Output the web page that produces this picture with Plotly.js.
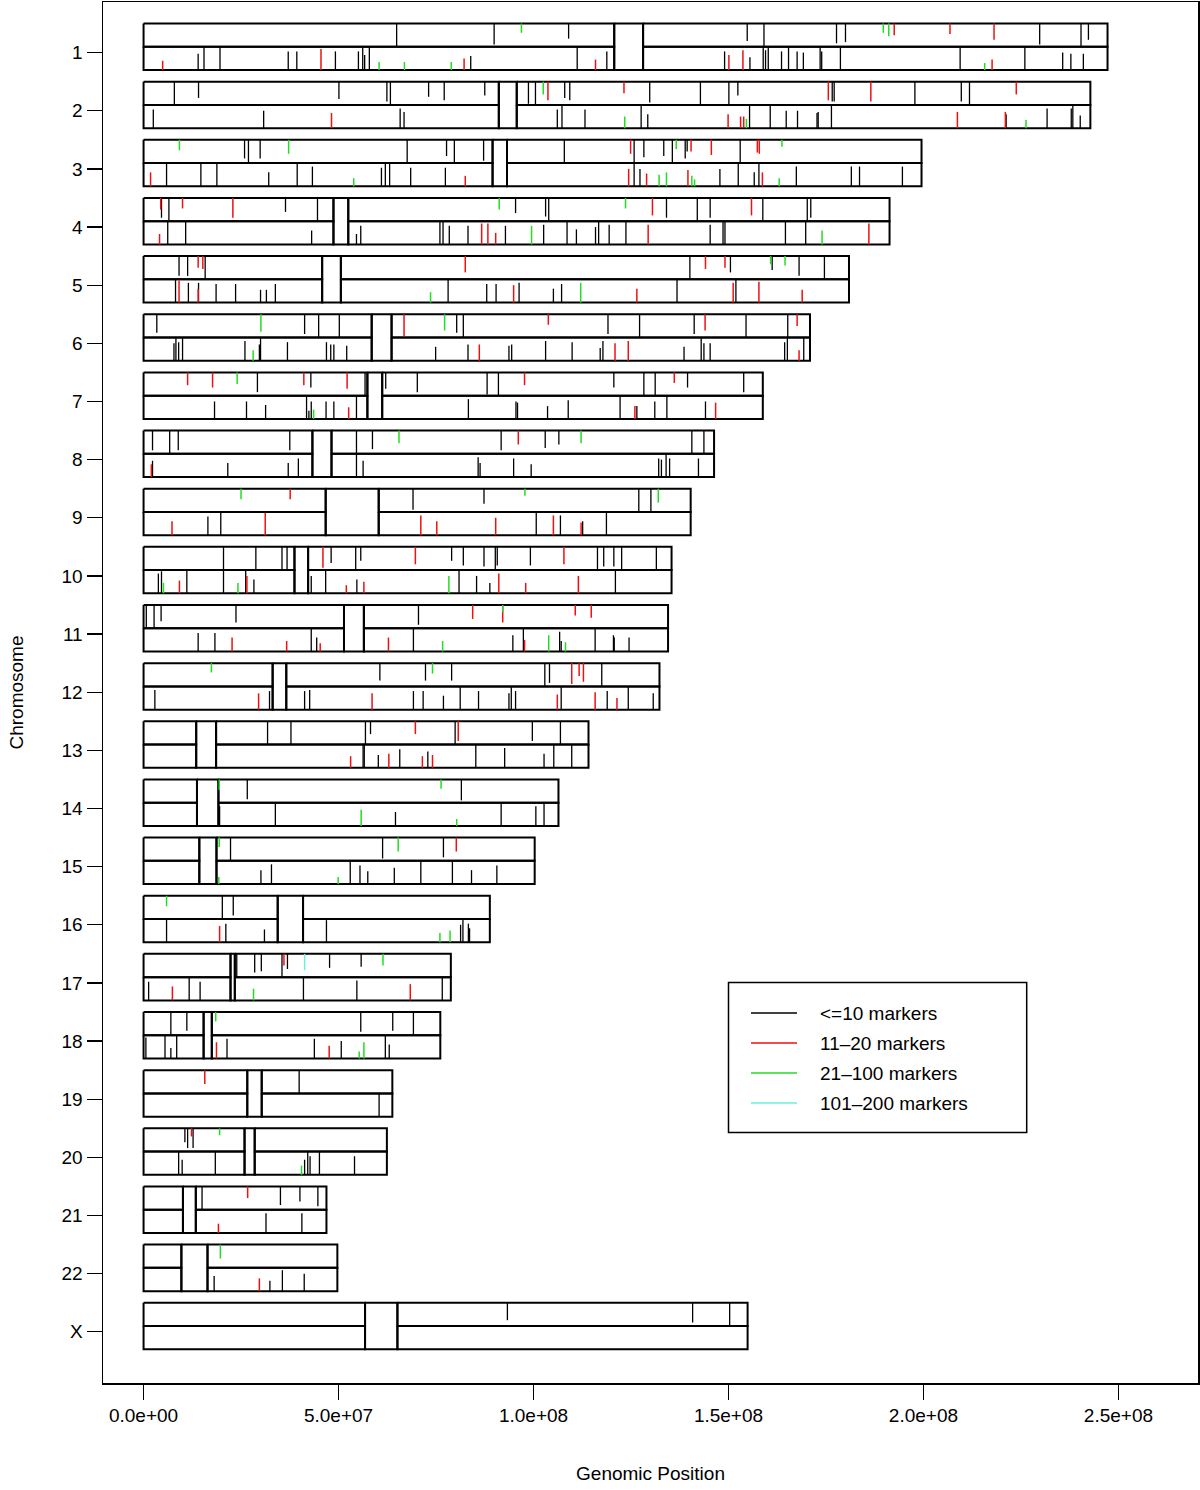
<!DOCTYPE html>
<html>
<head>
<meta charset="utf-8">
<script src="https://cdn.plot.ly/plotly-3.0.1.min.js"></script>
<style>html,body{margin:0;padding:0;background:#fff;}#chart{width:1200px;height:1490px;}</style>
</head>
<body>
<div id="chart"></div>
<script>
// ---- data (positions in Mb) ----
const chromLabels = ['1','2','3','4','5','6','7','8','9','10','11','12','13','14','15','16','17','18','19','20','21','22','X'];
const chromLength = [247.2,242.8,199.5,191.3,180.9,170.9,158.8,146.3,140.3,135.4,134.5,132.3,114.1,106.4,100.3,88.8,78.8,76.1,63.8,62.4,46.9,49.7,154.9];
const cenStart    = [120.7,91.1,89.5,48.7,45.8,58.5,57.4,43.3,46.7,38.7,51.4,33.1,13.5,13.7,14.3,34.4,22.3,15.4,26.6,25.9,10.1,9.7,56.8];
const cenEnd      = [128.1,95.7,93.2,52.5,50.6,63.6,61.2,48.2,60.3,42.2,56.5,36.6,18.6,19.2,18.7,40.9,23.4,17.5,30.3,28.5,13.4,16.4,65.1];

// marker-count class codes: k <=10, r 11-20, g 21-100, c 101-200
// each tick: [position Mb, class, relative length]
const upperTicks = [
 [[64.9,'k',1],[89.9,'k',.9],[96.9,'g',.4],[109.0,'k',.65],[154.8,'k',.75],[159.1,'k',1],[177.7,'k',.85],[180.0,'k',.8],[189.7,'g',.4],[191.1,'g',.55],[192.5,'r',.5],[206.8,'r',.45],[218.1,'r',.7],[229.8,'k',.9],[240.4,'k',1],[242.3,'k',.7]],
 [[7.9,'k',1],[14.1,'k',.7],[50.1,'k',.75],[62.4,'k',.85],[63.3,'k',1],[73.1,'k',.65],[77.1,'k',.8],[87.5,'k',.6],[98.7,'k',.95],[100.5,'k',1],[102.5,'g',.55],[103.7,'r',.8],[108.0,'k',.7],[109.3,'k',.8],[123.2,'r',.5],[129.8,'k',.9],[142.8,'k',1],[150.1,'k',1],[152.4,'k',.6],[175.6,'r',.8],[176.6,'k',.85],[177.1,'k',.85],[186.5,'r',.85],[197.8,'k',1],[209.7,'k',.85],[211.8,'k',1],[223.8,'r',.55]],
 [[9.2,'g',.45],[25.9,'k',.8],[26.9,'k',1],[29.9,'k',.8],[37.2,'g',.6],[67.6,'k',.95],[77.7,'k',.7],[79.7,'k',1],[87.2,'k',.9],[107.9,'k',1],[124.9,'r',.6],[125.8,'k',1],[128.3,'k',.75],[133.4,'k',.7],[135.6,'k',1],[136.6,'g',.4],[138.9,'k',.8],[139.4,'k',.5],[140.4,'r',.5],[145.6,'r',.65],[153.0,'k',1],[157.4,'r',.55],[157.9,'r',.6],[163.7,'g',.3]],
 [[4.4,'r',.5],[4.6,'k',.85],[6.5,'k',.95],[10.0,'r',.45],[22.9,'r',.85],[36.4,'k',.6],[44.6,'k',1],[91.2,'g',.5],[95.4,'k',.65],[103.1,'k',.8],[103.9,'k',1],[123.6,'g',.45],[130.5,'r',.75],[134.1,'k',.85],[142.0,'k',1],[145.3,'k',.85],[155.9,'r',.75],[158.8,'k',1],[170.2,'k',1],[171.1,'k',.85]],
 [[9.1,'k',.85],[11.3,'k',.85],[14.0,'r',.5],[15.2,'r',.55],[15.8,'k',1],[82.5,'r',.7],[140.1,'k',1],[144.1,'r',.55],[149.1,'r',.5],[150.5,'k',.7],[160.8,'g',.35],[161.2,'k',.6],[164.5,'g',.4],[168.1,'k',.85],[174.6,'k',1]],
 [[3.4,'k',.8],[30.1,'g',.75],[41.3,'k',.85],[44.9,'k',1],[50.2,'k',1],[66.8,'r',.95],[77.2,'g',.7],[80.3,'k',.8],[82.0,'k',1],[103.8,'r',.45],[119.1,'k',.85],[127.2,'k',1],[141.2,'k',.85],[144.0,'r',.7],[154.5,'k',1],[165.2,'k',1],[167.6,'r',.5]],
 [[11.3,'r',.55],[17.7,'r',.65],[24.0,'g',.5],[29.2,'k',.85],[41.1,'r',.55],[42.9,'k',.65],[52.2,'r',.7],[56.8,'k',1],[62.1,'k',.7],[70.2,'k',.85],[88.1,'k',.95],[91.0,'k',1],[97.7,'r',.55],[120.6,'k',.65],[128.3,'k',1],[131.2,'k',1],[136.1,'r',.45],[139.5,'k',.65],[153.9,'k',.85]],
 [[2.3,'k',.85],[6.7,'k',1],[8.9,'k',.85],[37.5,'k',.85],[54.6,'k',1],[58.7,'k',.8],[65.5,'g',.55],[91.7,'k',.85],[96.1,'r',.6],[103.0,'k',.75],[106.5,'k',.6],[112.2,'g',.55],[140.6,'k',1],[143.7,'k',1]],
 [[25.0,'g',.45],[37.6,'r',.45],[69.1,'k',.9],[87.3,'k',.65],[97.8,'g',.3],[127.0,'k',1],[130.1,'k',1],[132.0,'g',.6]],
 [[20.5,'k',1],[28.8,'k',1],[35.5,'k',1],[36.8,'k',1],[46.0,'r',.9],[48.1,'k',.7],[54.4,'k',1],[55.7,'k',.6],[69.7,'r',.75],[79.0,'k',.6],[82.0,'k',.8],[87.3,'k',.85],[90.2,'k',1],[90.7,'k',.8],[99.2,'k',.8],[107.8,'r',.75],[116.4,'k',1],[118.0,'k',.85],[120.6,'k',.85],[122.6,'k',1],[131.5,'k',1]],
 [[0.7,'k',1],[2.7,'k',1],[4.5,'k',.7],[23.7,'k',.75],[70.5,'k',.85],[84.4,'r',.6],[92.1,'r',.75],[92.1,'g',.3],[110.7,'r',.45],[114.8,'r',.55]],
 [[17.4,'g',.4],[60.6,'k',.75],[72.3,'k',.75],[74.1,'g',.45],[79.0,'k',.75],[102.9,'k',1],[104.1,'k',.85],[109.8,'r',.9],[111.7,'r',.55],[112.8,'r',.8],[117.5,'k',1]],
 [[31.8,'k',1],[37.8,'k',1],[56.9,'k',1],[58.2,'k',.55],[69.7,'r',.55],[79.9,'k',1],[80.7,'r',.85],[99.7,'k',.85],[106.9,'k',1]],
 [[19.4,'g',.45],[26.6,'k',.85],[76.3,'g',.4],[81.5,'k',.9]],
 [[19.4,'g',.4],[22.3,'k',1],[61.3,'k',.9],[65.3,'g',.6],[76.9,'k',.85],[80.2,'r',.6]],
 [[5.9,'g',.45],[20.2,'k',1],[23.0,'k',.85]],
 [[23.9,'k',1],[28.5,'k',.8],[30.2,'k',.75],[35.5,'k',1],[36.0,'r',.5],[36.9,'k',.65],[41.3,'c',.7],[47.7,'k',.6],[55.8,'k',.55],[61.4,'g',.5]],
 [[7.0,'k',1],[11.1,'k',.8],[18.5,'g',.4],[55.7,'k',.85],[63.9,'k',.8],[69.2,'k',1]],
 [[15.7,'r',.6],[39.9,'k',1]],
 [[10.6,'k',.6],[11.3,'k',.85],[12.3,'r',.35],[12.7,'k',.85],[19.5,'g',.3]],
 [[15.0,'k',1],[26.7,'r',.5],[35.1,'k',.8],[40.1,'k',.65],[44.7,'k',.85]],
 [[19.7,'g',.6]],
 [[93.3,'k',.75],[140.8,'k',.85],[150.3,'k',1]]
];
const lowerTicks = [
 [[4.9,'r',.4],[14.0,'k',.7],[15.5,'k',1],[19.6,'k',1],[37.1,'k',.8],[39.3,'k',.8],[45.5,'r',.9],[49.2,'k',.8],[55.1,'k',.8],[56.2,'k',1],[56.7,'k',.65],[57.9,'k',1],[60.4,'g',.35],[66.9,'g',.35],[78.9,'g',.35],[82.2,'r',.5],[83.9,'k',.6],[111.2,'k',1],[115.9,'r',.45],[118.8,'k',.8],[149.0,'k',.8],[150.1,'r',.65],[153.7,'r',.85],[155.5,'k',.55],[158.9,'k',1],[159.5,'k',.85],[160.2,'k',1],[163.6,'k',.8],[165.4,'k',1],[167.6,'k',.8],[169.2,'k',.75],[173.5,'k',1],[173.9,'k',.8],[178.7,'k',1],[209.4,'k',1],[215.7,'g',.3],[217.6,'r',.45],[226.0,'k',1],[235.7,'k',.75],[237.8,'k',.7],[241.0,'k',.7]],
 [[2.5,'k',.8],[30.8,'k',.75],[48.2,'r',.65],[65.8,'k',.85],[66.8,'k',.7],[106.1,'k',.8],[107.3,'k',1],[113.2,'k',.8],[123.4,'g',.5],[127.6,'k',1],[129.3,'k',.6],[149.9,'r',.6],[153.1,'r',.5],[153.9,'r',.5],[154.6,'g',.4],[155.4,'k',1],[160.7,'k',1],[164.8,'k',.75],[167.7,'k',.75],[172.7,'k',.65],[173.0,'k',.7],[176.4,'k',1],[208.7,'r',.7],[221.0,'r',.7],[221.2,'k',.6],[226.3,'g',.35],[231.7,'k',.85],[237.9,'k',.85],[238.3,'k',1],[240.2,'k',.55]],
 [[1.8,'r',.6],[5.9,'k',1],[14.7,'k',1],[18.8,'k',1],[32.1,'k',.6],[39.4,'k',1],[43.3,'k',.85],[53.9,'g',.35],[61.0,'k',.8],[62.0,'k',1],[63.1,'k',1],[68.5,'k',.8],[77.4,'k',.8],[82.5,'r',.45],[124.4,'r',.75],[125.8,'k',1],[127.3,'k',.75],[129.0,'r',.55],[132.2,'g',.5],[134.1,'g',.6],[139.6,'r',.7],[140.6,'g',.45],[141.3,'g',.3],[147.8,'k',.75],[152.5,'k',1],[156.6,'k',.6],[157.8,'k',1],[158.7,'r',.6],[163.0,'g',.35],[167.4,'k',.85],[181.5,'k',.85],[183.6,'k',.85],[194.6,'k',.85]],
 [[4.1,'r',.45],[6.2,'k',1],[10.8,'k',1],[43.1,'k',.6],[54.6,'k',.45],[55.7,'k',.8],[76.0,'k',1],[76.8,'k',1],[78.4,'k',.8],[83.2,'k',.8],[86.7,'r',.9],[88.3,'r',.9],[90.3,'r',.5],[92.8,'k',.8],[99.5,'g',.8],[102.6,'k',.85],[108.6,'k',1],[111.0,'k',.65],[115.9,'k',.75],[116.7,'k',1],[119.4,'k',.85],[123.7,'k',1],[129.4,'r',.85],[145.3,'k',.85],[148.6,'k',1],[149.1,'k',1],[164.6,'k',1],[169.8,'k',1],[174.0,'g',.6],[186.0,'r',.9]],
 [[8.2,'k',1],[9.1,'r',.95],[11.5,'k',.85],[14.0,'r',.6],[14.1,'k',.85],[18.6,'k',.8],[23.6,'k',.8],[30.0,'k',.55],[31.5,'k',.55],[33.8,'k',.8],[73.6,'g',.45],[78.1,'k',1],[88.0,'k',.8],[90.4,'k',.8],[94.9,'r',.75],[96.3,'k',.85],[105.1,'k',.6],[107.2,'k',.8],[112.1,'g',.85],[126.5,'r',.6],[136.8,'k',1],[151.2,'r',.85],[151.9,'k',1],[157.8,'r',.9],[168.9,'r',.55]],
 [[7.8,'k',.75],[8.3,'k',1],[9.0,'k',.8],[10.0,'k',1],[26.0,'k',.85],[28.1,'g',.45],[29.7,'k',.7],[30.0,'k',1],[36.9,'k',.8],[46.9,'k',.8],[48.0,'k',.7],[48.8,'k',.7],[52.1,'k',.65],[74.9,'k',.6],[83.2,'k',.7],[86.1,'r',.7],[93.7,'k',.65],[94.4,'k',.7],[103.1,'k',.85],[109.9,'k',.8],[117.1,'k',.55],[117.8,'k',.85],[120.9,'r',.75],[124.3,'r',.85],[138.6,'k',.6],[143.0,'k',1],[143.7,'k',.75],[145.3,'k',.75],[164.4,'k',.8],[165.1,'k',1],[168.1,'r',.45],[169.3,'k',1]],
 [[18.2,'k',.75],[26.4,'k',.75],[31.3,'k',.6],[41.8,'k',1],[42.4,'k',.35],[43.0,'k',.75],[43.6,'g',.4],[46.8,'k',.75],[48.8,'k',.75],[52.6,'r',.5],[54.6,'k',1],[83.3,'k',.85],[95.5,'k',.75],[95.9,'k',.7],[103.6,'k',.55],[108.9,'k',.8],[122.2,'k',1],[126.0,'r',.55],[126.5,'k',.55],[131.1,'k',.75],[134.2,'k',1],[144.1,'k',.75],[146.7,'r',.7]],
 [[2.0,'r',.55],[2.3,'k',.7],[21.6,'k',.6],[37.1,'k',.6],[39.7,'k',.8],[54.6,'k',1],[56.3,'k',.7],[85.8,'k',.85],[86.3,'k',.6],[94.9,'k',.8],[99.4,'k',.55],[132.1,'k',.8],[132.8,'k',.75],[134.0,'k',1],[134.9,'k',.8],[142.3,'k',.8]],
 [[7.3,'r',.6],[16.5,'k',.8],[19.8,'k',1],[31.2,'r',.95],[71.1,'r',.85],[75.2,'r',.6],[90.3,'r',.75],[100.7,'k',1],[105.1,'r',.85],[106.9,'k',.85],[112.2,'r',.55],[112.6,'k',.6],[118.7,'k',1]],
 [[3.8,'k',.85],[4.6,'k',.95],[5.1,'g',.45],[9.2,'r',.55],[11.1,'k',1],[20.5,'k',1],[24.2,'g',.45],[26.2,'k',1],[26.5,'r',.75],[28.3,'k',.6],[43.0,'k',.75],[46.7,'k',1],[52.0,'r',.35],[54.7,'k',.6],[56.5,'r',.5],[78.3,'g',.75],[80.9,'k',1],[85.4,'k',.75],[88.8,'k',.45],[91.1,'r',.85],[98.0,'r',.45],[111.5,'r',.75],[121.0,'k',1]],
 [[14.0,'k',.8],[18.3,'k',.8],[22.7,'r',.6],[36.7,'r',.45],[43.0,'k',1],[44.4,'k',.6],[45.3,'r',.35],[62.8,'r',.6],[69.2,'k',1],[76.7,'g',.45],[94.7,'k',.7],[97.4,'k',1],[97.7,'r',.5],[103.9,'g',.7],[106.7,'k',.85],[107.1,'k',.45],[108.2,'g',.4],[115.8,'k',1],[120.5,'k',.7],[120.7,'k',.6],[124.5,'k',.6]],
 [[2.9,'k',.85],[29.5,'r',.7],[32.3,'k',.8],[41.3,'k',.8],[42.6,'k',.85],[58.6,'r',.7],[69.2,'k',.8],[71.7,'k',.8],[76.9,'k',.6],[81.2,'k',1],[85.9,'k',.8],[93.7,'k',.7],[94.3,'k',1],[95.4,'k',.8],[106.1,'r',.65],[107.1,'k',1],[115.8,'r',.75],[118.9,'k',.8],[121.4,'r',.5],[124.3,'k',1],[130.7,'k',.7]],
 [[53.1,'r',.5],[56.3,'k',1],[56.6,'k',1],[60.2,'k',.55],[62.9,'r',.6],[65.7,'k',.8],[71.5,'r',.5],[72.9,'k',.7],[74.1,'r',.55],[85.2,'k',1],[92.6,'k',.85],[102.7,'k',.6],[105.2,'k',1],[109.8,'k',1]],
 [[19.5,'k',.85],[33.8,'k',1],[55.8,'g',.7],[64.6,'k',.6],[80.3,'g',.3],[91.7,'k',1],[100.6,'k',.85],[102.7,'k',1]],
 [[19.3,'g',.3],[30.1,'k',.6],[32.8,'k',.85],[49.9,'g',.3],[53.0,'k',1],[55.5,'k',.8],[57.5,'k',.55],[64.3,'k',.7],[71.1,'k',1],[79.2,'k',1],[84.1,'k',.6],[90.6,'k',.8]],
 [[5.9,'k',1],[19.5,'r',.7],[21.1,'k',.8],[31.0,'k',.55],[46.9,'k',.95],[76.0,'g',.4],[78.6,'g',.5],[81.3,'k',.75],[81.9,'k',1],[83.3,'k',.8],[83.6,'k',.6]],
 [[1.3,'k',.8],[7.4,'r',.6],[11.7,'k',1],[14.5,'k',.8],[28.2,'g',.5],[41.0,'k',1],[54.7,'k',.85],[68.4,'r',.7],[76.6,'k',1]],
 [[0.6,'k',.9],[5.5,'k',1],[7.0,'k',.45],[8.5,'k',1],[18.7,'r',.7],[21.4,'k',.85],[43.8,'k',.85],[47.6,'r',.55],[50.7,'k',.75],[55.3,'g',.3],[56.5,'g',.7],[62.0,'k',1],[63.0,'k',.6]],
 [[60.4,'k',1]],
 [[9.0,'k',1],[9.9,'k',.65],[18.4,'k',1],[40.5,'g',.4],[41.3,'k',.65],[42.1,'k',1],[42.7,'k',.8],[45.1,'k',1],[54.1,'k',.8]],
 [[19.2,'r',.4],[31.4,'k',.85],[40.6,'k',.85]],
 [[18.1,'k',.65],[29.7,'r',.55],[32.4,'k',.45],[35.6,'k',.9],[41.2,'k',.75]],
 []
];

const classCodes   = ['k','r','g','c'];
const legendLabels = ['<=10 markers','11\u201320 markers','21\u2013100 markers','101\u2013200 markers'];
const classColors  = ['#000000','#ee1111','#22dd22','#66f2dc'];
const xTickVals  = [0, 5e7, 1e8, 1.5e8, 2e8, 2.5e8];
const xTickText  = ['0.0e+00','5.0e+07','1.0e+08','1.5e+08','2.0e+08','2.5e+08'];

// ---- build traces ----
const MB = 1e6;
const FONT = 'Liberation Sans, Arial, Helvetica, sans-serif';
const FS = 19;
const bx = [], by = [];
function rect(x0, x1, y0, y1) {
  bx.push(x0*MB, x1*MB, x1*MB, x0*MB, x0*MB, null);
  by.push(y0, y0, y1, y1, y0, null);
}
chromLabels.forEach((lab, i) => {
  const y = i + 1, cs = cenStart[i], ce = cenEnd[i], L = chromLength[i];
  rect(0, cs, y - 0.5, y - 0.1);
  rect(0, cs, y - 0.1, y + 0.3);
  rect(cs, ce, y - 0.5, y + 0.3);
  rect(ce, L, y - 0.5, y - 0.1);
  rect(ce, L, y - 0.1, y + 0.3);
});
const traces = [{
  type: 'scatter', mode: 'lines', x: bx, y: by, hoverinfo: 'skip',
  line: {color: '#000', width: 2}, showlegend: false
}];
classCodes.forEach((code, ci) => {
  const tx = [], ty = [];
  chromLabels.forEach((lab, i) => {
    const y = i + 1;
    upperTicks[i].forEach(t => { if (t[1] === code) { tx.push(t[0]*MB, t[0]*MB, null); ty.push(y - 0.5, y - 0.5 + 0.4*t[2], null); } });
    lowerTicks[i].forEach(t => { if (t[1] === code) { tx.push(t[0]*MB, t[0]*MB, null); ty.push(y + 0.3, y + 0.3 - 0.4*t[2], null); } });
  });
  traces.push({type: 'scatter', mode: 'lines', x: tx, y: ty, name: legendLabels[ci], hoverinfo: 'skip',
    line: {color: classColors[ci], width: code === 'k' ? 1.3 : 1.5}, showlegend: false});
});

// ---- custom legend (pixel layout -> paper coords) ----
const L0 = 103, PW = 1095, B0 = 1383, PH = 1381;
const px = v => (v - L0) / PW, py = v => (B0 - v) / PH;
const shapes = [{type: 'rect', xref: 'paper', yref: 'paper', x0: px(728.5), x1: px(1026.7), y0: py(1132.5), y1: py(982.5),
  line: {color: '#000', width: 1.5}, fillcolor: 'rgba(0,0,0,0)'}];
const annotations = [];
legendLabels.forEach((lab, k) => {
  const yy = 1013 + k * 30;
  shapes.push({type: 'line', xref: 'paper', yref: 'paper', x0: px(751), x1: px(797), y0: py(yy), y1: py(yy),
    line: {color: classColors[k], width: 1.5}});
  annotations.push({xref: 'paper', yref: 'paper', x: px(818), y: py(yy), xanchor: 'left', yanchor: 'middle',
    text: lab, showarrow: false, font: {family: FONT, size: FS, color: '#000'}});
});

const layout = {
  width: 1200, height: 1490,
  margin: {l: 103, r: 2, t: 2, b: 107},
  paper_bgcolor: '#fff', plot_bgcolor: '#fff',
  font: {family: FONT, size: FS, color: '#000'},
  showlegend: false,
  xaxis: {
    range: [-10.4e6, 270.4e6], showgrid: false, zeroline: false,
    tickmode: 'array', tickvals: xTickVals, ticktext: xTickText,
    ticks: 'outside', ticklen: 15, tickwidth: 1.3, tickcolor: '#000',
    showline: true, mirror: true, linecolor: '#000', linewidth: 1.5,
    tickfont: {family: FONT, size: FS, color: '#000'},
    title: {text: 'Genomic Position', font: {family: FONT, size: FS, color: '#000'}, standoff: 41}
  },
  yaxis: {
    range: [23.88, 0.13], showgrid: false, zeroline: false,
    tickmode: 'array', tickvals: chromLabels.map((_, i) => i + 1), ticktext: chromLabels,
    ticks: 'outside', ticklen: 15, tickwidth: 1.3, tickcolor: '#000',
    showline: true, mirror: true, linecolor: '#000', linewidth: 1.5,
    tickfont: {family: FONT, size: FS, color: '#000'},
    title: {text: 'Chromosome', font: {family: FONT, size: FS, color: '#000'}, standoff: 33}
  },
  shapes: shapes,
  annotations: annotations
};

Plotly.newPlot('chart', traces, layout, {displayModeBar: false, staticPlot: true});
</script>
</body>
</html>
